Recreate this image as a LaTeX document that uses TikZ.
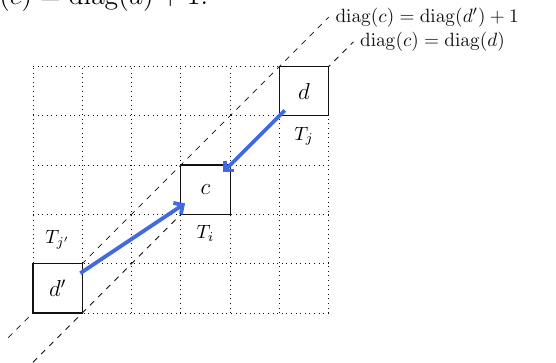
\documentclass[tikz,border=0pt]{standalone}
\usepackage{amsmath,amssymb}
\usepackage{xcolor}
\usepackage{tikz}
\usetikzlibrary{arrows.meta,positioning}
\definecolor{Ink}{HTML}{111111}
\definecolor{MoveBlue}{HTML}{4169E1}

\tikzset{
  cell/.style={draw=Ink,semithick,fill=white,minimum size=25.68pt,inner sep=0pt,font=\large},
  diagline/.style={Ink,dashed},
  move/.style={MoveBlue,line width=2pt,-{Straight Barb[angle=90:5pt]},shorten <=0.5cm,shorten >=0.45cm},
}

\begin{document}
\begin{tikzpicture}[x=0.9025cm,y=0.9025cm]
  \clip (-0.669,-1.014) rectangle (10.61,6.349);
  % cut-off line of text above the picture
  \node[anchor=base east,inner sep=0pt,font=\Large] (eq) at (3.56,6.25) {$\mathrm{diag}(c) = \mathrm{diag}(d) + 1.$};
  % tile grid
  \draw[Ink,dotted] (0,0) grid[step=1] (6,5);
  % diagonals
  \coordinate (ua) at (-0.5,-0.5);
  \coordinate (ub) at (6,6);
  \coordinate (la) at (0,-1);
  \coordinate (lb) at (6.5,5.5);
  \draw[diagline] (ua) -- (ub) node[right] (ulbl) {$\mathrm{diag}(c) = \mathrm{diag}(d') + 1$};
  \draw[diagline] (la) -- (lb) node[right] (llbl) {$\mathrm{diag}(c) = \mathrm{diag}(d)$};
  % tiles
  \node[cell] (dp) at (0.5,0.5) {$d'$};
  \node[cell] (c) at (3.5,2.5) {$c$};
  \node[cell] (d) at (5.5,4.5) {$d$};
  \node[above=4pt of dp] (tjp) {$T_{j'}$};
  \node[below=2pt of c] (ti) {$T_i$};
  \node[below=2pt of d] (tj) {$T_j$};
  % moves
  \draw[move] (dp.center) -- (c.center);
  \draw[move] (d.center) -- (c.center);
\end{tikzpicture}
\end{document}
